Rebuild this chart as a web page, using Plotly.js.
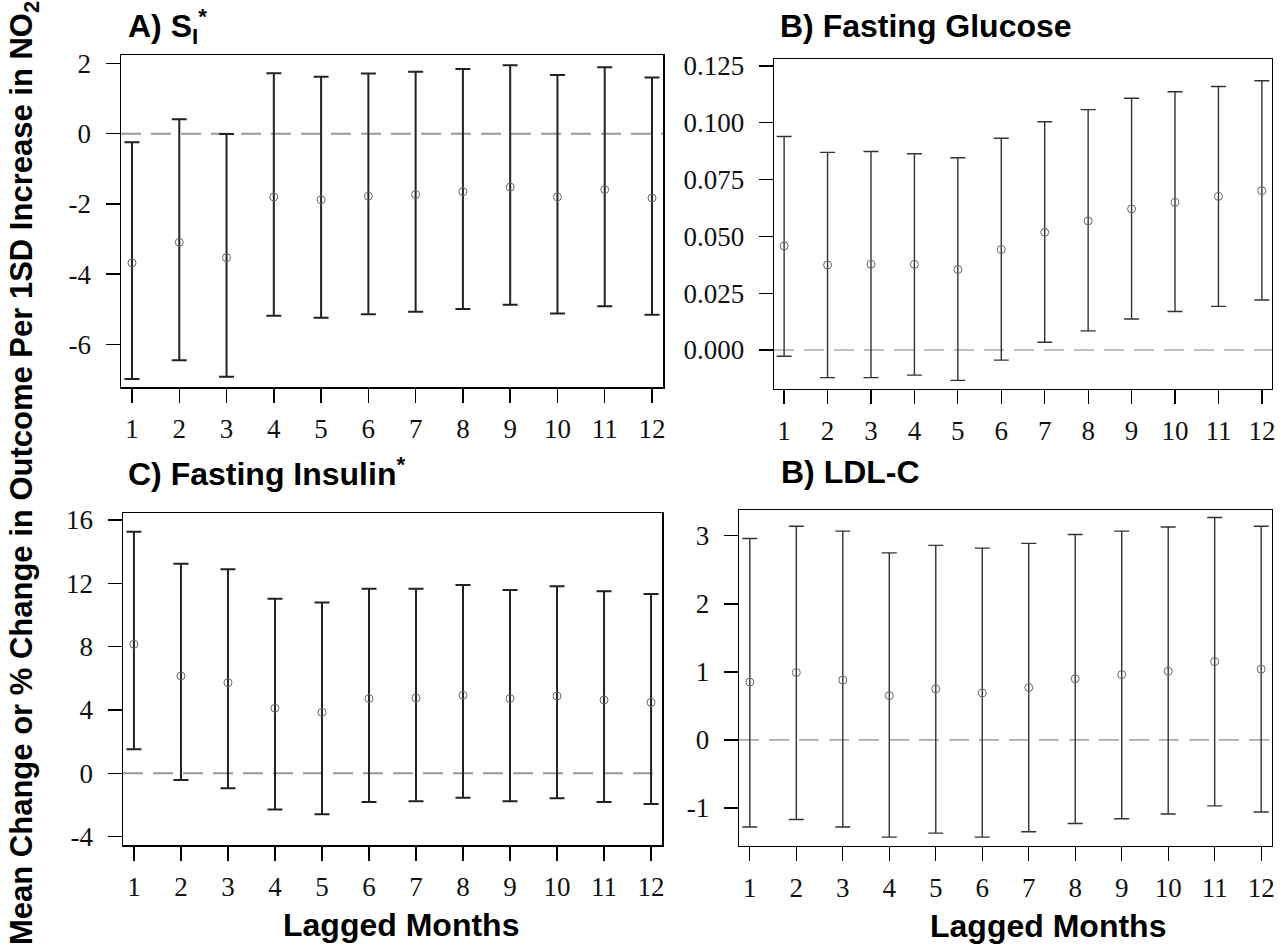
<!DOCTYPE html>
<html><head><meta charset="utf-8">
<script src="https://cdn.plot.ly/plotly-3.0.1.min.js"></script>
<style>html,body{margin:0;padding:0;background:#fff}#chart{width:1286px;height:946px}</style>
</head><body><div id="chart"></div>
<script>
// ---- data ----
const months = [1,2,3,4,5,6,7,8,9,10,11,12];
const monthLabels = ["1","2","3","4","5","6","7","8","9","10","11","12"];

// A) S_I*
const siEst  = [-3.68,-3.09,-3.53,-1.80,-1.88,-1.78,-1.73,-1.65,-1.52,-1.80,-1.59,-1.83];
const siLow  = [-6.98,-6.45,-6.92,-5.18,-5.24,-5.14,-5.07,-4.99,-4.87,-5.12,-4.91,-5.15];
const siHigh = [-0.24, 0.41,-0.01, 1.72, 1.62, 1.71, 1.76, 1.84, 1.95, 1.67, 1.89, 1.60];

// B) Fasting Glucose
const glEst  = [0.0458,0.0374,0.0377,0.0377,0.0354,0.0442,0.0518,0.0568,0.0621,0.0650,0.0676,0.0701];
const glLow  = [-0.0028,-0.0122,-0.0122,-0.0111,-0.0134,-0.0045,0.0034,0.0084,0.0136,0.0169,0.0192,0.0220];
const glHigh = [0.0940,0.0870,0.0874,0.0864,0.0846,0.0932,0.1005,0.1058,0.1108,0.1137,0.1160,0.1185];

// C) Fasting Insulin*
const inEst  = [8.15,6.15,5.73,4.11,3.85,4.72,4.76,4.93,4.72,4.88,4.63,4.48];
const inLow  = [1.52,-0.42,-0.95,-2.29,-2.59,-1.81,-1.77,-1.54,-1.77,-1.58,-1.81,-1.94];
const inHigh = [15.26,13.24,12.88,11.03,10.78,11.66,11.66,11.89,11.58,11.81,11.49,11.33];

// D) LDL-C
const ldEst  = [0.85,0.99,0.88,0.65,0.75,0.69,0.77,0.90,0.96,1.01,1.15,1.04];
const ldLow  = [-1.28,-1.17,-1.28,-1.43,-1.37,-1.43,-1.35,-1.23,-1.16,-1.09,-0.97,-1.06];
const ldHigh = [2.96,3.14,3.07,2.75,2.86,2.82,2.89,3.02,3.07,3.13,3.27,3.14];

// tick values / labels
const siTicks = [-6,-4,-2,0,2];            const siTickText = ["-6","-4","-2","0","2"];
const glTicks = [0,0.025,0.05,0.075,0.1,0.125]; const glTickText = ["0.000","0.025","0.050","0.075","0.100","0.125"];
const inTicks = [-4,0,4,8,12,16];          const inTickText = ["-4","0","4","8","12","16"];
const ldTicks = [-1,0,1,2,3];              const ldTickText = ["-1","0","1","2","3"];

// ---- build ----
function trace(est, lo, hi, xa, ya, col, thick) {
  return {
    type: 'scatter', mode: 'markers', x: months, y: est, xaxis: xa, yaxis: ya,
    marker: {symbol: 'circle-open', size: 8, color: '#666', line: {width: 1, color: '#666'}},
    error_y: {type: 'data', symmetric: false,
      array: hi.map((h, i) => h - est[i]),
      arrayminus: lo.map((l, i) => est[i] - l),
      color: col, thickness: thick, width: 7.5},
    showlegend: false, hoverinfo: 'x+y'
  };
}
const data = [
  trace(siEst, siLow, siHigh, 'x', 'y', '#222', 2),
  trace(glEst, glLow, glHigh, 'x2', 'y2', '#333', 1.4),
  trace(inEst, inLow, inHigh, 'x3', 'y3', '#222', 2),
  trace(ldEst, ldLow, ldHigh, 'x4', 'y4', '#333', 1.4)
];

const W = 1286, H = 946;
const px = v => v / W, py = v => 1 - v / H;
const serif = {family: 'Liberation Serif, Times New Roman, serif', size: 27, color: '#111'};

function xax(l, r, anchor, lw) {
  return {domain: [px(l), px(r)], anchor: anchor, range: [0.767, 12.233],
    tickvals: months, ticktext: monthLabels, ticks: 'outside', ticklen: 14, tickwidth: lw,
    tickcolor: '#000', showline: true, mirror: true, linecolor: '#000', linewidth: lw,
    showgrid: false, zeroline: false, tickfont: serif, ticklabelstandoff: 3};
}
function yax(t, b, anchor, range, tv, tt, lw) {
  return {domain: [py(b), py(t)], anchor: anchor, range: range,
    tickvals: tv, ticktext: tt, ticks: 'outside', ticklen: 14, tickwidth: lw,
    tickcolor: '#000', showline: true, mirror: true, linecolor: '#000', linewidth: lw,
    showgrid: false, zeroline: false, tickfont: serif, ticklabelstandoff: 9};
}
function zline(ya, col, w) {
  return {type: 'line', xref: ya.replace('y', 'x') + ' domain', x0: 0, x1: 1, yref: ya, y0: 0, y1: 0,
    line: {color: col, width: w, dash: '20px,10px'}, layer: 'below'};
}
const bold = (size) => ({family: 'Liberation Sans, Arial, sans-serif', size: size, color: '#000', weight: 'bold'});
function ann(text, x, y, size, xanchor, angle) {
  return {text: text, xref: 'paper', yref: 'paper', x: px(x), y: py(y), xanchor: xanchor || 'left',
    yanchor: 'middle', showarrow: false, font: bold(size), textangle: angle || 0};
}

const layout = {
  width: W, height: H, autosize: false, margin: {l: 0, r: 0, t: 0, b: 0},
  paper_bgcolor: '#fff', plot_bgcolor: '#fff',
  xaxis:  xax(121, 663, 'y', 1.5),
  yaxis:  yax(55, 387, 'x', [-7.21, 2.24], siTicks, siTickText, 1.5),
  xaxis2: xax(774, 1272, 'y2', 1.3),
  yaxis2: yax(59, 389, 'x2', [-0.0172, 0.1281], glTicks, glTickText, 1.3),
  xaxis3: xax(123, 662, 'y3', 1.5),
  yaxis3: yax(513, 845, 'x3', [-4.53, 16.44], inTicks, inTickText, 1.5),
  xaxis4: xax(739, 1272, 'y4', 1.3),
  yaxis4: yax(510, 846, 'x4', [-1.56, 3.38], ldTicks, ldTickText, 1.3),
  shapes: [zline('y', '#999', 2), zline('y2', '#aaa', 1.6), zline('y3', '#999', 2), zline('y4', '#aaa', 1.6)],
  annotations: [
    ann('A) S<sub>I</sub><sup>*</sup>', 126, 27, 32),
    ann('B) Fasting Glucose', 778, 26, 32),
    ann('C) Fasting Insulin<sup>*</sup>', 126, 472, 32),
    ann('B) LDL-C', 779, 472, 32),
    ann('Lagged Months', 401, 925, 32, 'center'),
    ann('Lagged Months', 1048, 926, 32, 'center'),
    ann('Mean Change or % Change in Outcome Per 1SD Increase in NO<sub>2</sub>', 24, 473, 31, 'center', -90)
  ]
};

Plotly.newPlot('chart', data, layout, {displayModeBar: false, staticPlot: true});
</script>
</body></html>
